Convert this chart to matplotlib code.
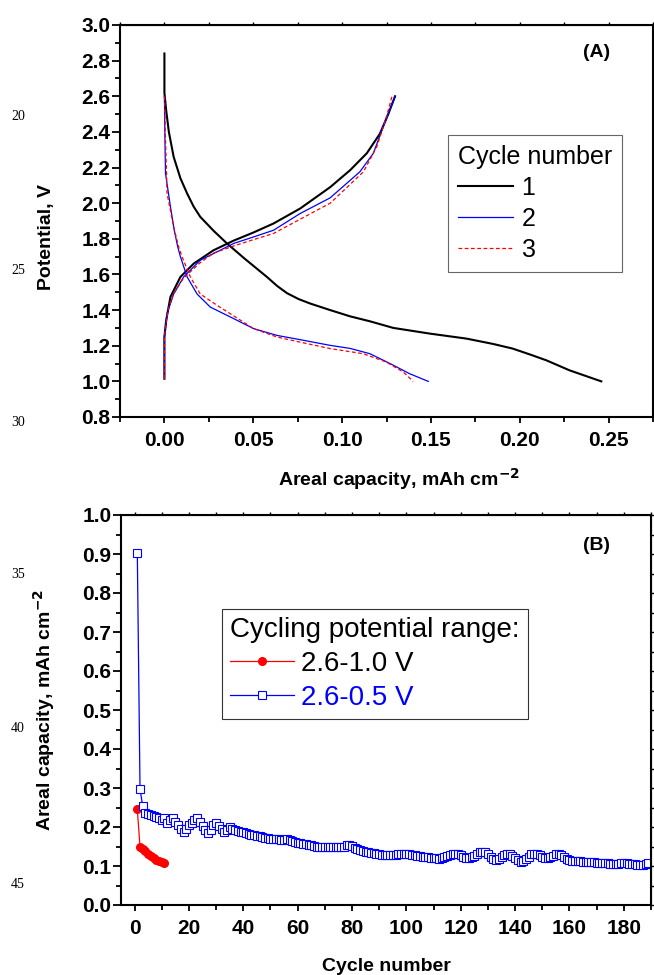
import numpy as np
import matplotlib
matplotlib.use('Agg')
import matplotlib.pyplot as plt
from matplotlib.ticker import MultipleLocator, FormatStrFormatter

plt.rcParams['font.family'] = ['Liberation Sans', 'DejaVu Sans']

# ---- panel A: potential profiles (capacity mAh cm-2, potential V)
cap1_dis = [0.0, 0.0, 0.001, 0.0025, 0.0052, 0.009, 0.0128, 0.0165, 0.0202, 0.0277, 0.0352,
            0.045, 0.0577, 0.0635, 0.069, 0.0755, 0.082, 0.0933, 0.1045, 0.1157, 0.1288,
            0.1494, 0.170, 0.185, 0.196, 0.206, 0.215, 0.228, 0.2459]
v1_dis = [2.84, 2.62, 2.52, 2.40, 2.26, 2.14, 2.054, 1.98, 1.923, 1.845, 1.774,
          1.69, 1.586, 1.535, 1.495, 1.462, 1.437, 1.40, 1.365, 1.337, 1.30,
          1.268, 1.24, 1.21, 1.184, 1.15, 1.118, 1.062, 1.0]
cap1_ch = [0.0, 0.0, 0.001, 0.0034, 0.009, 0.0165, 0.0277, 0.039, 0.050, 0.0614, 0.0764,
           0.0933, 0.1045, 0.1139, 0.1213, 0.126, 0.1298]
v1_ch = [1.015, 1.25, 1.343, 1.474, 1.586, 1.661, 1.736, 1.79, 1.835, 1.886, 1.97,
         2.09, 2.185, 2.28, 2.39, 2.50, 2.60]

cap2_dis = [0.0, 0.0003, 0.0006, 0.0034, 0.0055, 0.0075, 0.009, 0.0128, 0.0184, 0.0258, 0.039,
            0.0502, 0.0633, 0.0764, 0.0933, 0.1045, 0.1157, 0.127, 0.138, 0.1485]
v2_dis = [2.60, 2.35, 2.167, 1.98, 1.85, 1.755, 1.70, 1.586, 1.49, 1.417, 1.352,
          1.296, 1.258, 1.234, 1.202, 1.185, 1.155, 1.10, 1.043, 1.0]
cap2_ch = [0.0, 0.0, 0.0015, 0.0052, 0.0108, 0.0202, 0.039, 0.050, 0.0614, 0.0764, 0.0933,
           0.110, 0.1176, 0.1232, 0.1298]
v2_ch = [1.015, 1.25, 1.38, 1.49, 1.586, 1.68, 1.774, 1.81, 1.848, 1.942, 2.03,
         2.176, 2.28, 2.43, 2.597]

cap3_dis = [0.0, 0.0005, 0.0015, 0.0052, 0.008, 0.0099, 0.0146, 0.0202, 0.0296, 0.0502, 0.0633,
            0.0764, 0.0933, 0.112, 0.125, 0.1345, 0.140]
v3_dis = [2.60, 2.40, 2.054, 1.867, 1.755, 1.70, 1.586, 1.49, 1.427, 1.296, 1.249,
          1.22, 1.184, 1.155, 1.108, 1.052, 1.0]
cap3_ch = [0.0, 0.0, 0.002, 0.005, 0.0108, 0.02, 0.0277, 0.039, 0.050, 0.0614, 0.0764,
           0.0933, 0.112, 0.1195, 0.125, 0.128]
v3_ch = [1.015, 1.25, 1.40, 1.49, 1.58, 1.665, 1.72, 1.76, 1.795, 1.83, 1.91,
         2.0, 2.176, 2.316, 2.485, 2.597]

# ---- panel B: areal capacity vs cycle number
cap_10 = [0.245, 0.149, 0.143, 0.138, 0.132, 0.126, 0.121, 0.116, 0.112, 0.110, 0.107]
cap_05 = [0.902, 0.297, 0.253, 0.236, 0.233, 0.230, 0.227, 0.226, 0.222, 0.218,
          0.224, 0.211, 0.218, 0.222, 0.212, 0.205, 0.196, 0.188, 0.195, 0.205,
          0.210, 0.218, 0.222, 0.214, 0.202, 0.192, 0.185, 0.193, 0.205, 0.211,
          0.203, 0.195, 0.186, 0.192, 0.199, 0.196, 0.192, 0.190, 0.188, 0.186,
          0.184, 0.182, 0.180, 0.179, 0.178, 0.176, 0.175, 0.173, 0.172, 0.170,
          0.169, 0.168, 0.168, 0.167, 0.167, 0.168, 0.166, 0.164, 0.162, 0.160,
          0.158, 0.157, 0.156, 0.155, 0.153, 0.151, 0.150, 0.149, 0.149, 0.148,
          0.148, 0.148, 0.149, 0.150, 0.150, 0.149, 0.150, 0.153, 0.154, 0.151,
          0.147, 0.144, 0.141, 0.139, 0.137, 0.135, 0.134, 0.133, 0.132, 0.130,
          0.129, 0.128, 0.128, 0.128, 0.128, 0.129, 0.130, 0.131, 0.132, 0.132,
          0.131, 0.129, 0.127, 0.126, 0.125, 0.124, 0.123, 0.122, 0.121, 0.120,
          0.120, 0.119, 0.120, 0.122, 0.125, 0.128, 0.130, 0.131, 0.130, 0.127,
          0.124, 0.121, 0.120, 0.122, 0.126, 0.131, 0.135, 0.137, 0.136, 0.130,
          0.124, 0.118, 0.115, 0.117, 0.123, 0.129, 0.132, 0.131, 0.126, 0.120,
          0.115, 0.111, 0.112, 0.117, 0.124, 0.130, 0.132, 0.131, 0.128, 0.124,
          0.121, 0.120, 0.122, 0.126, 0.130, 0.131, 0.129, 0.124, 0.119, 0.116,
          0.114, 0.113, 0.112, 0.112, 0.111, 0.111, 0.110, 0.110, 0.109, 0.108,
          0.108, 0.108, 0.107, 0.107, 0.106, 0.106, 0.106, 0.105, 0.107, 0.108,
          0.107, 0.106, 0.105, 0.104, 0.103, 0.103, 0.103, 0.104, 0.108]
cyc_10 = np.arange(1, len(cap_10) + 1)
cyc_05 = np.arange(1, len(cap_05) + 1)

margin_nums = ['20', '25', '30', '35', '40', '45']
margin_y = [117, 270, 423, 575, 728, 884]

W, H = 654, 975
fig = plt.figure(figsize=(W / 100, H / 100), dpi=100)

def style_axes(ax, xmaj, xmin, ymaj, ymin, xfmt, yfmt):
    ax.xaxis.set_major_locator(MultipleLocator(xmaj))
    ax.xaxis.set_minor_locator(MultipleLocator(xmin))
    ax.yaxis.set_major_locator(MultipleLocator(ymaj))
    ax.yaxis.set_minor_locator(MultipleLocator(ymin))
    ax.xaxis.set_major_formatter(FormatStrFormatter(xfmt))
    ax.yaxis.set_major_formatter(FormatStrFormatter(yfmt))
    for s in ax.spines.values():
        s.set_linewidth(1.5)
    ax.tick_params(axis='both', which='both', direction='out', width=1.3,
                   labelsize=15)
    ax.tick_params(axis='y', which='major', length=6, pad=1)
    ax.tick_params(axis='y', which='minor', length=3.5)
    ax.tick_params(axis='x', which='major', length=4, pad=6)
    ax.tick_params(axis='x', which='minor', length=3.5)
    for lab in ax.get_xticklabels() + ax.get_yticklabels():
        lab.set_fontweight('bold')
    # mirrored small ticks on top / right
    sx = ax.secondary_xaxis('top')
    sx.xaxis.set_major_locator(MultipleLocator(xmin))
    sx.tick_params(length=2, width=1, labeltop=False, direction='out')
    sy = ax.secondary_yaxis('right')
    sy.yaxis.set_major_locator(MultipleLocator(ymin))
    sy.tick_params(length=2, width=1, labelright=False, direction='out')

# ---------------- panel A
axA = fig.add_axes([120 / W, 1 - 417 / H, 533 / W, 392 / H])
axA.plot(cap1_dis, v1_dis, color='black', lw=1.5, label='1')
axA.plot(cap1_ch, v1_ch, color='black', lw=1.5)
axA.plot(cap2_dis, v2_dis, color='#0000ff', lw=0.9, label='2')
axA.plot(cap2_ch, v2_ch, color='#0000ff', lw=0.9)
axA.plot(cap3_dis, v3_dis, color='#ff0000', lw=0.9, ls=(0, (3, 2)), label='3')
axA.plot(cap3_ch, v3_ch, color='#ff0000', lw=0.9, ls=(0, (3, 2)))
axA.set_xlim(-0.025, 0.275)
axA.set_ylim(0.8, 3.0)
style_axes(axA, 0.05, 0.025, 0.2, 0.1, '%.2f', '%.1f')
axA.set_xlabel('Areal capacity, mAh cm$^{\\mathbf{-2}}$', fontsize=14, fontweight='bold')
axA.set_ylabel('Potential, V', fontsize=14, fontweight='bold')
axA.xaxis.set_label_coords(0.523, -0.125)
axA.yaxis.set_label_coords(-0.122, 0.46)
axA.text(0.895, 0.931, '(A)', transform=axA.transAxes, ha='center', va='center',
         fontsize=14, fontweight='bold')
legA = axA.legend(title='Cycle number', loc='upper left', bbox_to_anchor=(0.615, 0.719),
                  borderaxespad=0, fontsize=18, title_fontsize=18, fancybox=False,
                  handlelength=2.2, handletextpad=0.35, labelspacing=0.28,
                  borderpad=0.4, alignment='left')
legA.get_frame().set_edgecolor('0.25')
legA.get_frame().set_linewidth(0.8)

# ---------------- panel B
axB = fig.add_axes([121 / W, 1 - 905 / H, 530 / W, 390 / H])
axB.plot(cyc_10, cap_10, color='#ff0000', lw=0.9, marker='o', ms=5.5,
         mfc='#ff0000', mec='#ff0000', label='2.6-1.0 V')
axB.plot(cyc_05, cap_05, color='#0000ff', lw=0.9, marker='s', ms=5.5,
         mfc='white', mec='#0000ff', mew=0.8, label='2.6-0.5 V')
axB.set_xlim(-5, 190)
axB.set_ylim(0.0, 1.0)
style_axes(axB, 20, 10, 0.1, 0.05, '%d', '%.1f')
axB.set_xlabel('Cycle number', fontsize=14, fontweight='bold')
axB.set_ylabel('Areal capacity, mAh cm$^{\\mathbf{-2}}$', fontsize=14, fontweight='bold')
axB.xaxis.set_label_coords(0.5, -0.135)
axB.yaxis.set_label_coords(-0.121, 0.5)
axB.text(0.898, 0.923, '(B)', transform=axB.transAxes, ha='center', va='center',
         fontsize=14, fontweight='bold')
legB = axB.legend(title='Cycling potential range:', loc='upper left',
                  bbox_to_anchor=(0.19, 0.759), borderaxespad=0, fontsize=20,
                  title_fontsize=20, fancybox=False, handlelength=2.3,
                  handletextpad=0.25, labelspacing=0.28, borderpad=0.3,
                  numpoints=1, alignment='left')
legB.get_frame().set_edgecolor('black')
legB.get_frame().set_linewidth(0.8)
legB.get_texts()[1].set_color('#0000ff')

# manuscript line numbers in the margin
for t, yy in zip(margin_nums, margin_y):
    fig.text(18 / W, 1 - yy / H, t, ha='center', va='center', fontsize=10,
             family='Liberation Serif')

fig.savefig('out.png', dpi=100)
